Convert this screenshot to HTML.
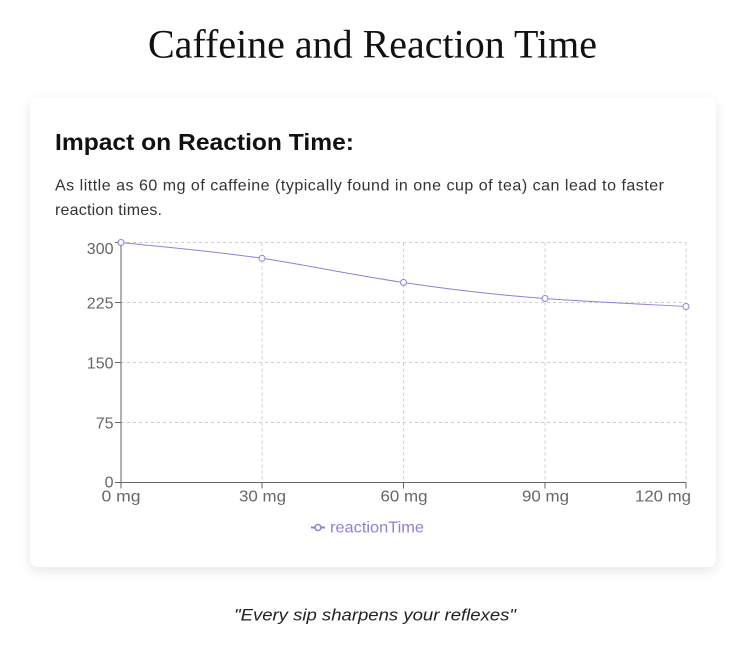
<!DOCTYPE html>
<html>
<head>
<meta charset="utf-8">
<style>
  html, body { margin: 0; padding: 0; background: #ffffff; }
  body { width: 743px; height: 651px; position: relative; overflow: hidden; }
  .card {
    position: absolute; left: 30px; top: 97px; width: 686px; height: 470px;
    background: #ffffff; border-radius: 8px;
    box-shadow: 0 4px 12px rgba(0,0,0,0.10);
  }
  svg { position: absolute; left: 0; top: 0; }
</style>
</head>
<body>
<div class="card"></div>
<svg width="743" height="651" viewBox="0 0 743 651" xmlns="http://www.w3.org/2000/svg">
  <!-- Title -->
  <text x="372.5" y="57.3" text-anchor="middle" font-family="'Liberation Serif', serif" font-size="40" fill="#111" textLength="449" lengthAdjust="spacingAndGlyphs">Caffeine and Reaction Time</text>

  <!-- Heading -->
  <text x="55" y="150" font-family="'Liberation Sans', sans-serif" font-weight="bold" font-size="23.5" fill="#111" textLength="299" lengthAdjust="spacingAndGlyphs">Impact on Reaction Time:</text>

  <!-- Paragraph -->
  <text x="55" y="190.7" font-family="'Liberation Sans', sans-serif" font-size="16" fill="#333" textLength="609" lengthAdjust="spacing">As little as 60 mg of caffeine (typically found in one cup of tea) can lead to faster</text>
  <text x="55" y="215.2" font-family="'Liberation Sans', sans-serif" font-size="16" fill="#333" textLength="107" lengthAdjust="spacing">reaction times.</text>

  <!-- Grid -->
  <g stroke="#cccccc" stroke-width="1" stroke-dasharray="3 3" fill="none">
    <line x1="121" y1="242.5" x2="686" y2="242.5"/>
    <line x1="121" y1="302.5" x2="686" y2="302.5"/>
    <line x1="121" y1="362.5" x2="686" y2="362.5"/>
    <line x1="121" y1="422.5" x2="686" y2="422.5"/>
    <line x1="262" y1="242.5" x2="262" y2="482.5"/>
    <line x1="403.5" y1="242.5" x2="403.5" y2="482.5"/>
    <line x1="545" y1="242.5" x2="545" y2="482.5"/>
    <line x1="686" y1="242.5" x2="686" y2="482.5"/>
  </g>

  <!-- Axes -->
  <g stroke="#666666" stroke-width="1" fill="none">
    <line x1="121" y1="482.5" x2="686" y2="482.5"/>
    <line x1="121" y1="242.5" x2="121" y2="482.5"/>
    <!-- x ticks -->
    <line x1="121" y1="482.5" x2="121" y2="488.5"/>
    <line x1="262" y1="482.5" x2="262" y2="488.5"/>
    <line x1="403.5" y1="482.5" x2="403.5" y2="488.5"/>
    <line x1="545" y1="482.5" x2="545" y2="488.5"/>
    <line x1="686" y1="482.5" x2="686" y2="488.5"/>
    <!-- y ticks -->
    <line x1="115" y1="242.5" x2="121" y2="242.5"/>
    <line x1="115" y1="302.5" x2="121" y2="302.5"/>
    <line x1="115" y1="362.5" x2="121" y2="362.5"/>
    <line x1="115" y1="422.5" x2="121" y2="422.5"/>
    <line x1="115" y1="482.5" x2="121" y2="482.5"/>
  </g>

  <!-- Y labels -->
  <g font-family="'Liberation Sans', sans-serif" font-size="16" fill="#666" text-anchor="end">
    <text x="113.5" y="254">300</text>
    <text x="113.5" y="308.5">225</text>
    <text x="113.5" y="368.5">150</text>
    <text x="113.5" y="428.5">75</text>
    <text x="113.5" y="487.5">0</text>
  </g>

  <!-- X labels -->
  <g font-family="'Liberation Sans', sans-serif" font-size="15.5" fill="#666">
    <text x="121" y="501.5" text-anchor="middle" textLength="39" lengthAdjust="spacingAndGlyphs">0 mg</text>
    <text x="262.5" y="501.5" text-anchor="middle" textLength="47" lengthAdjust="spacingAndGlyphs">30 mg</text>
    <text x="404" y="501.5" text-anchor="middle" textLength="47" lengthAdjust="spacingAndGlyphs">60 mg</text>
    <text x="545.5" y="501.5" text-anchor="middle" textLength="47" lengthAdjust="spacingAndGlyphs">90 mg</text>
    <text x="691" y="501.5" text-anchor="end" textLength="56" lengthAdjust="spacingAndGlyphs">120 mg</text>
  </g>

  <!-- Series line -->
  <path d="M121,242.5 C168,247.5 215,251.5 262,258.3 C309,265.5 356,275.5 403.5,282.5 C450,289.5 497,295 545,298.5 C592,302 639,304 686,306.5"
        fill="none" stroke="#8884d8" stroke-width="1"/>
  <g fill="#ffffff" stroke="#8884d8" stroke-width="1">
    <circle cx="121" cy="242.5" r="3"/>
    <circle cx="262" cy="258.3" r="3"/>
    <circle cx="403.5" cy="282.5" r="3"/>
    <circle cx="545" cy="298.5" r="3"/>
    <circle cx="686" cy="306.5" r="3"/>
  </g>

  <!-- Legend -->
  <line x1="311" y1="527.5" x2="325" y2="527.5" stroke="#8884d8" stroke-width="2"/>
  <circle cx="318" cy="527.5" r="3" fill="#ffffff" stroke="#8884d8" stroke-width="1.5"/>
  <text x="330" y="532.3" font-family="'Liberation Sans', sans-serif" font-size="16" fill="#8884d8" textLength="94" lengthAdjust="spacingAndGlyphs">reactionTime</text>

  <!-- Quote -->
  <text x="375" y="620.5" text-anchor="middle" font-family="'Liberation Sans', sans-serif" font-style="italic" font-size="17" fill="#222" textLength="282" lengthAdjust="spacingAndGlyphs">"Every sip sharpens your reflexes"</text>
</svg>
</body>
</html>
